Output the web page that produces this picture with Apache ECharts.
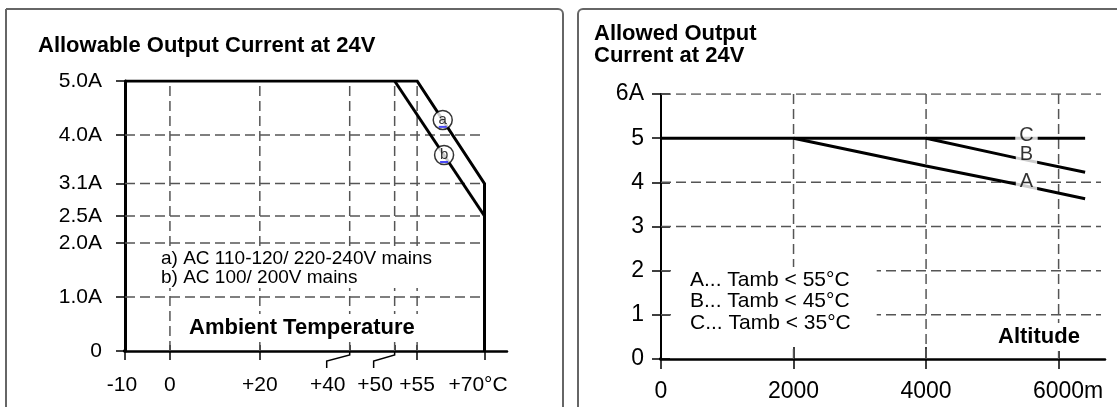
<!DOCTYPE html>
<html><head><meta charset="utf-8">
<script src="https://cdn.jsdelivr.net/npm/echarts@6/dist/echarts.min.js"></script>
<style>html,body{margin:0;padding:0;background:#fff}#c{width:1117px;height:407px}</style>
</head><body><div id="c"></div>
<script>
// ---------- Left chart: output current vs ambient temperature ----------
const tempTicks = [-10, 0, 20, 40, 50, 55, 70];
const tempTickLabels = ['-10', '0', '+20', '+40', '+50', '+55', '+70°C'];
const currentTicks = [0, 1, 2, 2.5, 3.1, 4, 5];
const currentTickLabels = ['0', '1.0A', '2.0A', '2.5A', '3.1A', '4.0A', '5.0A'];
const curveA_mains = [[-10, 5], [55, 5], [70, 3.1], [70, 0]];   // a) AC 110-120/220-240V
const curveB_mains = [[50, 5], [70, 2.5]];                       // b) AC 100/200V
const curveMarkers = [[60.7, 4.28, 'a'], [61, 3.63, 'b']];
const tempGridX = [0, 20, 40, 50, 55];
const currentGridY = [1, 2, 2.5, 3.1, 4];

// ---------- Right chart: output current vs altitude ----------
const altTicks = [0, 2000, 4000, 6000];
const altTickLabels = ['0', '2000', '4000', '6000m'];
const altCurrentTicks = [0, 1, 2, 3, 4, 5, 6];
const altCurrentLabels = ['0', '1', '2', '3', '4', '5', '6A'];
const curveC = [[0, 5], [6400, 5]];                                   // Tamb < 35°C
const curveB = [[4000, 5], [5340, 4.56], [6400, 4.23]];               // Tamb < 45°C
const curveA = [[2000, 5], [4000, 4.37], [5340, 3.97], [6400, 3.63]]; // Tamb < 55°C
const curveLetters = [[5515, 5.06, 'C'], [5515, 4.62, 'B'], [5515, 4.01, 'A']];
const altGridX = [2000, 4000, 6000];
const altGridY = [1, 2, 3, 4, 6];

const FONT = "'Liberation Sans', Arial, Helvetica, sans-serif";
const chart = echarts.init(document.getElementById('c'), null, {renderer: 'canvas'});

function nudgedLabels(ticks, labels, nudge, size) {
  const rich = {};
  labels.forEach((l, i) => {
    const d = nudge[l] || 0;
    rich['s' + i] = {fontSize: size, fontFamily: FONT, color: '#000',
      padding: d < 0 ? [0, -2 * d, 0, 0] : [0, 0, 0, 2 * d]};
  });
  return {
    rich,
    formatter: v => {
      const i = ticks.findIndex(t => Math.abs(t - v) < 1e-6);
      return i < 0 ? '' : '{s' + i + '|' + labels[i] + '}';
    }
  };
}
const tempLab = nudgedLabels(tempTicks, tempTickLabels, {'-10': -3, '+40': -22, '+50': -19.5, '+70°C': -6.5}, 21);
const altLab = nudgedLabels(altTicks, altTickLabels, {'6000m': 9.5}, 23);

function dashed(xi, yi, data) {
  return {type: 'line', xAxisIndex: xi, yAxisIndex: yi, data, symbol: 'none', silent: true,
    lineStyle: {color: '#555', width: 1.5, type: [10, 5]}, z: 1};
}
function solid(xi, yi, data, w, extra) {
  return Object.assign({type: 'line', xAxisIndex: xi, yAxisIndex: yi, data, symbol: 'none', silent: true,
    lineStyle: {color: '#000', width: w, cap: 'butt', join: 'miter'}, z: 3}, extra || {});
}

const series = [];
currentGridY.forEach(v => series.push(dashed(0, 0, [[-10, v], [70, v]])));
tempGridX.forEach(v => series.push(dashed(0, 0, [[v, 0], [v, 5]])));
altGridY.forEach(v => series.push(dashed(2, 1, [[0, v], [6640, v]])));
altGridX.forEach(v => series.push(dashed(2, 1, [[v, 0], [v, 6]])));
series.push(solid(0, 0, curveA_mains, 3));
series.push(solid(0, 0, curveB_mains, 3));
series.push(solid(0, 0, [[-12.5, 0], [-10, 0]], 2.5, {clip: false}));
series.push(solid(2, 1, [[-150, 0], [0, 0]], 2.5, {clip: false}));
series.push(solid(2, 1, curveC, 3));
series.push(solid(2, 1, curveB, 3));
series.push(solid(2, 1, curveA, 3));
series.push({type: 'scatter', xAxisIndex: 0, yAxisIndex: 0, data: curveMarkers, symbol: 'circle', symbolSize: 19,
  silent: true, z: 5, itemStyle: {color: '#fff', borderColor: '#000', borderWidth: 1.5},
  label: {show: true, position: 'inside', formatter: p => p.data[2], fontSize: 15, fontFamily: FONT, color: '#000'}});
series.push({type: 'scatter', xAxisIndex: 0, yAxisIndex: 0, data: curveMarkers, symbol: 'rect', symbolSize: [8, 2],
  symbolOffset: [0, 7], silent: true, z: 6, itemStyle: {color: '#1c1cf0'}});
series.push({type: 'scatter', xAxisIndex: 2, yAxisIndex: 1, data: curveLetters, symbolSize: 0, silent: true, z: 8,
  label: {show: true, position: 'inside', formatter: p => p.data[2], fontSize: 20, fontFamily: FONT, color: '#000',
    backgroundColor: '#fff', padding: [0, 4, 0, 4]}});

const tickStyle = {color: '#000', width: 1.5};
const option = {
  animation: false,
  backgroundColor: '#fff',
  grid: [
    {left: 125, top: 81, width: 382, height: 270},
    {left: 661, top: 94, width: 444, height: 265}
  ],
  xAxis: [
    {gridIndex: 0, type: 'value', min: -10, max: 75, position: 'bottom',
      axisLine: {show: true, onZero: false, lineStyle: {color: '#000', width: 2.5}},
      axisTick: {show: true, customValues: [-10, 0, 20, 55, 70], length: 9, lineStyle: tickStyle},
      axisLabel: {show: true, customValues: tempTicks, margin: 24, formatter: tempLab.formatter, rich: tempLab.rich},
      splitLine: {show: false}},
    {gridIndex: 0, type: 'value', min: -10, max: 75, position: 'bottom',
      axisLine: {show: false}, axisLabel: {show: false}, splitLine: {show: false},
      axisTick: {show: true, inside: true, customValues: [0, 20, 40, 50, 55], length: 6, lineStyle: tickStyle}},
    {gridIndex: 1, type: 'value', min: 0, max: 6700, position: 'bottom',
      axisLine: {show: true, onZero: false, lineStyle: {color: '#000', width: 2.5}},
      axisTick: {show: true, customValues: altTicks, length: 10, lineStyle: tickStyle},
      axisLabel: {show: true, customValues: altTicks, margin: 21, formatter: altLab.formatter, rich: altLab.rich},
      splitLine: {show: false}},
    {gridIndex: 1, type: 'value', min: 0, max: 6700, position: 'bottom',
      axisLine: {show: false}, axisLabel: {show: false}, splitLine: {show: false},
      axisTick: {show: true, inside: true, customValues: altTicks, length: 12, lineStyle: tickStyle}}
  ],
  yAxis: [
    {gridIndex: 0, type: 'value', min: 0, max: 5, position: 'left',
      axisLine: {show: true, onZero: false, lineStyle: {color: '#000', width: 3}},
      axisTick: {show: true, customValues: currentTicks, length: 9, lineStyle: tickStyle},
      axisLabel: {show: true, customValues: currentTicks, margin: 23, fontSize: 21, fontFamily: FONT, color: '#000',
        formatter: v => currentTickLabels[currentTicks.findIndex(t => Math.abs(t - v) < 1e-6)] || ''},
      splitLine: {show: false}},
    {gridIndex: 1, type: 'value', min: 0, max: 6, position: 'left',
      axisLine: {show: true, onZero: false, lineStyle: {color: '#000', width: 2}},
      axisTick: {show: true, customValues: altCurrentTicks, length: 9, lineStyle: tickStyle},
      axisLabel: {show: true, customValues: altCurrentTicks, margin: 17, fontSize: 23, fontFamily: FONT, color: '#000',
        formatter: v => altCurrentLabels[altCurrentTicks.findIndex(t => Math.abs(t - v) < 1e-6)] || ''},
      splitLine: {show: false}},
    {gridIndex: 1, type: 'value', min: 0, max: 6, position: 'left',
      axisLine: {show: false}, axisLabel: {show: false}, splitLine: {show: false},
      axisTick: {show: true, inside: true, customValues: altCurrentTicks, length: 9, lineStyle: tickStyle}}
  ],
  graphic: {elements: [
    {id: 'frameL', type: 'rect', z: 0, silent: true, shape: {x: 6, y: 9, width: 557, height: 430, r: [0, 5, 0, 0]},
      style: {fill: 'none', stroke: '#666', lineWidth: 2}},
    {id: 'frameR', type: 'rect', z: 0, silent: true, shape: {x: 578, y: 9, width: 600, height: 430, r: [5, 0, 0, 0]},
      style: {fill: 'none', stroke: '#666', lineWidth: 2}},
    {id: 'titleL', type: 'text', z: 100, silent: true, x: 38, y: 46,
      style: {text: 'Allowable Output Current at 24V', font: 'bold 22px ' + FONT, fill: '#000', verticalAlign: 'middle'}},
    {id: 'titleR', type: 'text', z: 100, silent: true, x: 594, y: 23,
      style: {text: 'Allowed Output\nCurrent at 24V', font: 'bold 22px ' + FONT, fill: '#000', lineHeight: 22, verticalAlign: 'top'}},
    {id: 'noteL', type: 'text', z: 100, silent: true, x: 157, y: 248,
      style: {text: 'a) AC 110-120/ 220-240V mains\nb) AC 100/ 200V mains', font: '19px ' + FONT, fill: '#000',
        lineHeight: 19, verticalAlign: 'top', backgroundColor: '#fff', padding: [1, 4, 1, 4]}},
    {id: 'axisNameL', type: 'text', z: 100, silent: true, x: 185, y: 314,
      style: {text: 'Ambient Temperature', font: 'bold 22px ' + FONT, fill: '#000', lineHeight: 24,
        verticalAlign: 'top', backgroundColor: '#fff', padding: [2, 4, 2, 4]}},
    {id: 'axisNameR', type: 'text', z: 100, silent: true, x: 994, y: 323,
      style: {text: 'Altitude', font: 'bold 22px ' + FONT, fill: '#000', lineHeight: 24,
        verticalAlign: 'top', backgroundColor: '#fff', padding: [2, 4, 2, 4]}},
    {id: 'legendR', type: 'text', z: 100, silent: true, x: 672, y: 267,
      style: {text: 'A... Tamb < 55°C\nB... Tamb < 45°C\nC... Tamb < 35°C', font: '21px ' + FONT, fill: '#000',
        lineHeight: 21.7, verticalAlign: 'top', backgroundColor: '#fff', padding: [2, 26, 13, 18]}}
  ]},
  series
};
chart.setOption(option);

// leader lines from the +40 / +50 ticks to their displaced labels
const axisY = chart.convertToPixel({yAxisIndex: 0}, 0);
const leaders = [[40, 23], [50, 21]].map(([v, dx], i) => {
  const x = chart.convertToPixel({xAxisIndex: 0}, v);
  return {id: 'lead' + i, type: 'polyline', z: 50, silent: true,
    shape: {points: [[x, axisY], [x, axisY + 4], [x - dx, axisY + 10], [x - dx, axisY + 17]]},
    style: {stroke: '#000', lineWidth: 1.5, fill: 'none'}};
});
chart.setOption({graphic: {elements: leaders}});
</script>
</body></html>
